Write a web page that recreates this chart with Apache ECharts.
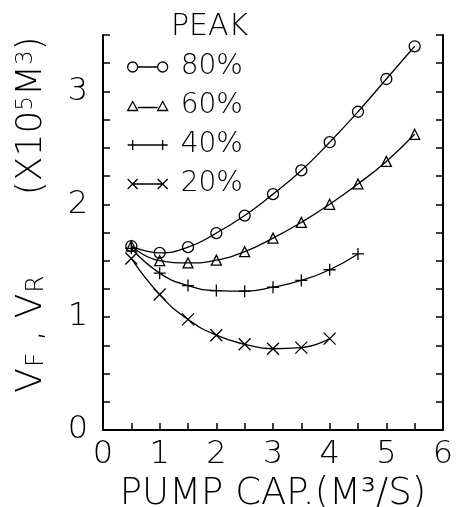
<!DOCTYPE html>
<html><head><meta charset="utf-8">
<script src="https://cdn.jsdelivr.net/npm/echarts@6/dist/echarts.min.js"></script>
<style>html,body{margin:0;padding:0;background:#fff}#c{width:473px;height:507px}</style>
</head><body><div id="c"></div>
<script>
// ---- data ----
const seriesNames = ['80%', '60%', '40%', '20%'];
const x80 = [0.5, 1, 1.5, 2, 2.5, 3, 3.5, 4, 4.5, 5, 5.5];
const y80 = [1.63, 1.57, 1.62, 1.745, 1.90, 2.09, 2.30, 2.55, 2.82, 3.11, 3.40];
const x60 = [0.5, 1, 1.5, 2, 2.5, 3, 3.5, 4, 4.5, 5, 5.5];
const y60 = [1.63, 1.50, 1.48, 1.505, 1.58, 1.70, 1.84, 2.00, 2.18, 2.38, 2.62];
const x40 = [0.5, 1, 1.5, 2, 2.5, 3, 3.5, 4, 4.5];
const y40 = [1.61, 1.39, 1.28, 1.235, 1.23, 1.265, 1.325, 1.42, 1.56];
const x20 = [0.5, 1, 1.5, 2, 2.5, 3, 3.5, 4];
const y20 = [1.52, 1.20, 0.98, 0.84, 0.76, 0.72, 0.73, 0.81];
const xTickLabels = [0, 1, 2, 3, 4, 5, 6];
const yTickLabels = [0, 1, 2, 3];

const FONT = 'DejaVu Sans';
const FW = 200;
const INK = '#000';
const zip = (xs, ys) => xs.map((x, i) => [x, ys[i]]);
const allX = [x80, x60, x40, x20];
const allY = [y80, y60, y40, y20];
const markers = ['circle', 'triangle', 'path://M5,0L5,10M0,5L10,5', 'path://M0,0L10,10M0,10L10,0'];
const markerSizes = [11, 10, 12, 12];
const legendIcons = [
  'path://M5,0A5,5 0 1,1 5,10A5,5 0 1,1 5,0ZM10,5L30,5M35,0A5,5 0 1,1 35,10A5,5 0 1,1 35,0Z',
  'path://M5,0L10,9L0,9ZM10,6L30,6M35,0L40,9L30,9Z',
  'path://M0,5L40,5M5,0L5,10M35,0L35,10',
  'path://M0,0L10,10M0,10L10,0M5,5L35,5M30,0L40,10M30,10L40,0'
];
const symStyle = { color: 'rgba(0,0,0,0)', borderColor: INK, borderWidth: 1.3 };

const chart = echarts.init(document.getElementById('c'), null, { renderer: 'canvas' });
const yAxisBase = {
  type: 'value', min: 0, max: 3.5, interval: 0.25,
  axisLine: { show: true, lineStyle: { color: INK, width: 2 } },
  axisTick: { show: true, inside: true, length: 7, lineStyle: { color: INK, width: 1.5 } },
  splitLine: { show: false }
};
chart.setOption({
  animation: false,
  backgroundColor: '#fff',
  title: {
    text: 'PEAK', left: 166, top: 7,
    textStyle: { fontFamily: FONT, fontSize: 30, fontWeight: FW, color: INK }
  },
  legend: {
    orient: 'vertical', left: 122, top: 48, itemWidth: 40, itemHeight: 10, itemGap: 11,
    selectedMode: false,
    textStyle: { fontFamily: FONT, fontWeight: FW, fontSize: 28, color: INK, lineHeight: 28, padding: [0, 0, 0, 8] },
    data: seriesNames.map((n, i) => ({ name: n, icon: legendIcons[i], itemStyle: symStyle }))
  },
  grid: { left: 103, right: 30, top: 35, bottom: 77, containLabel: false, outerBoundsMode: 'none' },
  xAxis: {
    type: 'value', min: 0, max: 6, interval: 0.5,
    name: 'PUMP CAP.(M³/S)', nameLocation: 'middle', nameGap: 39,
    nameTextStyle: { fontFamily: FONT, fontWeight: FW, fontSize: 37, color: INK },
    axisLine: { show: true, onZero: false, lineStyle: { color: INK, width: 2 } },
    axisTick: { show: true, inside: true, length: 7, lineStyle: { color: INK, width: 1.5 } },
    axisLabel: {
      fontFamily: FONT, fontWeight: FW, fontSize: 32, color: INK, margin: 9,
      formatter: v => (xTickLabels.includes(v) ? String(v) : '')
    },
    splitLine: { show: false }
  },
  yAxis: [
    Object.assign({}, yAxisBase, {
      position: 'left',
      name: '{v|V}{s|F}{v| , V}{s|R}{v|       (X10}{p|5}{v|M}{p|3}{v|)}',
      nameLocation: 'middle', nameRotate: 90, nameGap: 50,
      nameTextStyle: {
        color: INK, padding: [0, 0, 0, 36],
        rich: {
          v: { fontFamily: FONT, fontWeight: FW, fontSize: 36, color: INK, lineHeight: 42, verticalAlign: 'middle' },
          s: { fontFamily: FONT, fontWeight: FW, fontSize: 25, color: INK, lineHeight: 42, verticalAlign: 'bottom', padding: [0, 0, 4, 1] },
          p: { fontFamily: FONT, fontWeight: FW, fontSize: 23, color: INK, lineHeight: 42, verticalAlign: 'top', padding: [4, 0, 0, 0] }
        }
      },
      axisLabel: {
        fontFamily: FONT, fontWeight: FW, fontSize: 32, color: INK, margin: 15,
        formatter: v => (yTickLabels.includes(v) ? String(v) : '')
      }
    }),
    Object.assign({}, yAxisBase, { position: 'right', axisLabel: { show: false } })
  ],
  series: seriesNames.map((n, i) => ({
    name: n, type: 'line', smooth: true,
    data: zip(allX[i], allY[i]),
    symbol: markers[i], symbolSize: markerSizes[i],
    lineStyle: { color: INK, width: 1.3 },
    itemStyle: symStyle,
    emphasis: { disabled: true }
  }))
});
</script></body></html>
